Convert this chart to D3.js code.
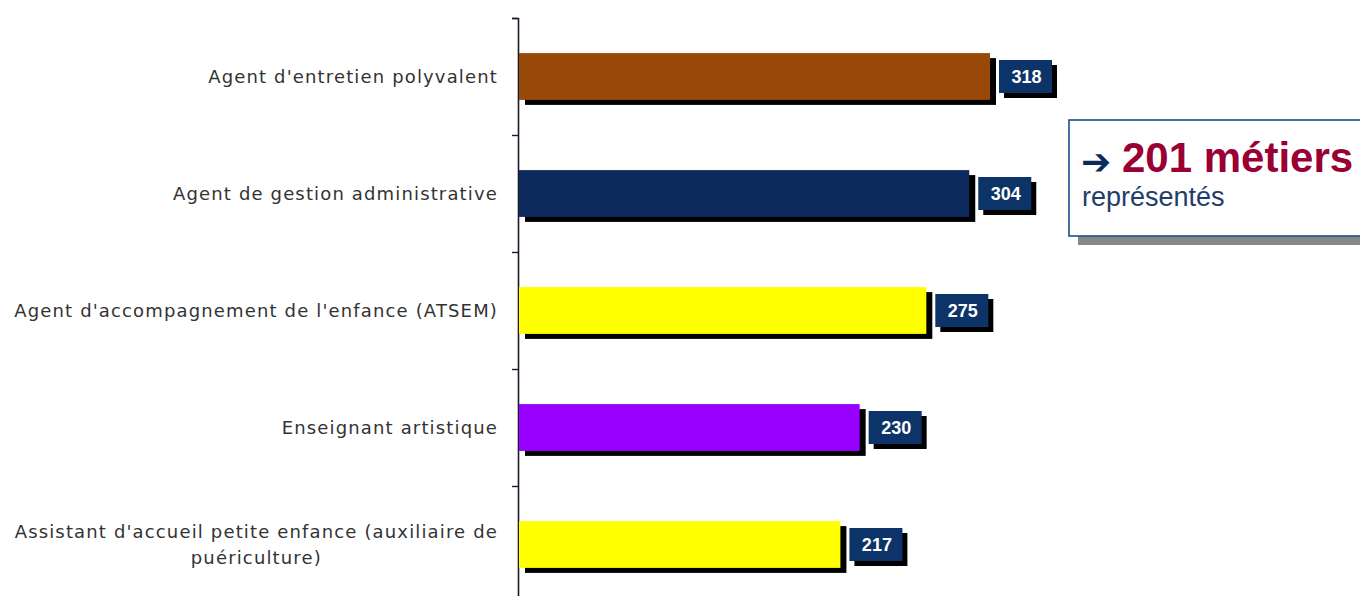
<!DOCTYPE html>
<html><head><meta charset="utf-8">
<script src="https://cdn.jsdelivr.net/npm/d3@7"></script>
<style>body{margin:0;background:#fff;} svg{display:block;}</style>
</head><body>
<svg id="c" width="1360" height="596"></svg>
<script>
const categories = [
  "Agent d'entretien polyvalent",
  "Agent de gestion administrative",
  "Agent d'accompagnement de l'enfance (ATSEM)",
  "Enseignant artistique",
  "Assistant d'accueil petite enfance (auxiliaire de|puériculture)"
];
const values = [318, 304, 275, 230, 217];
const barColors = ["#984807", "#0c2a5c", "#ffff00", "#9900ff", "#ffff00"];
const calloutBig = "201 métiers";
const calloutSmall = "représentés";

const svg = d3.select("#c");
const x = d3.scaleLinear().domain([0, 318]).range([519, 990]);
const y = d3.scaleBand().domain(categories).range([18, 603]).paddingInner(0.6).paddingOuter(0.3);
const yIdx = d3.scaleLinear().domain([0, categories.length]).range([18, 603]);

// axis with ticks at band boundaries
svg.append("g").attr("transform", "translate(518,0)")
  .call(d3.axisLeft(yIdx).ticks(categories.length).tickSize(6).tickFormat(""))
  .call(g => g.select(".domain").attr("stroke", "#1a1a2a").attr("stroke-width", 1.6))
  .call(g => g.selectAll(".tick line").attr("stroke", "#1a1a2a").attr("stroke-width", 1.4));

const bw = y.bandwidth();
// bar shadows
svg.selectAll("rect.sh").data(values).join("rect")
  .attr("x", (d) => x(0) + 6).attr("y", (d, i) => y(categories[i]) + 5)
  .attr("width", d => x(d) - x(0)).attr("height", bw)
  .attr("fill", "#000");
// bars
svg.selectAll("rect.bar").data(values).join("rect")
  .attr("x", x(0)).attr("y", (d, i) => y(categories[i]))
  .attr("width", d => x(d) - x(0)).attr("height", bw)
  .attr("fill", (d, i) => barColors[i]);

// value boxes
const boxW = 53, boxH = 33;
const vb = svg.selectAll("g.vb").data(values).join("g")
  .attr("transform", (d, i) => `translate(${x(d) + 9},${y(categories[i]) + bw / 2 - boxH / 2})`);
vb.append("rect").attr("x", 5).attr("y", 5).attr("width", boxW).attr("height", boxH).attr("fill", "#000");
vb.append("rect").attr("width", boxW).attr("height", boxH).attr("fill", "#0d3468");
vb.append("text").attr("x", boxW / 2 + 1).attr("y", boxH / 2 + 6)
  .attr("text-anchor", "middle").attr("fill", "#fff")
  .style("font", "bold 18px 'Liberation Sans', Arial, sans-serif").text(d => d);

// category labels
const lab = svg.selectAll("text.cat").data(categories).join("text")
  .attr("class", "cat")
  .style("font", "18px 'DejaVu Sans', sans-serif").style("letter-spacing", "1.15px").attr("fill", "#333");
lab.each(function (c) {
  const lines = c.split("|");
  const t = d3.select(this);
  const cy = y(c) + bw / 2;
  const lh = 26;
  const top = cy - (lines.length - 1) * lh / 2 + 6;
  lines.forEach((l, k) => t.append("tspan").attr("y", top + k * lh).text(l));
  const tsp = t.selectAll("tspan").nodes();
  const maxW = d3.max(tsp, n => n.getComputedTextLength());
  t.attr("text-anchor", "middle");
  t.selectAll("tspan").attr("x", 498 - maxW / 2);
});

// callout
const cg = svg.append("g");
cg.append("rect").attr("x", 1078).attr("y", 128).attr("width", 300).attr("height", 117).attr("fill", "#888");
cg.append("rect").attr("x", 1069).attr("y", 120).attr("width", 300).attr("height", 116)
  .attr("fill", "#fff").attr("stroke", "#1f4e8c").attr("stroke-width", 1.6);
cg.append("text").attr("x", 1081).attr("y", 174).attr("fill", "#0c2a5c")
  .style("font", "bold 36px 'DejaVu Sans', sans-serif").text("➔");
cg.append("text").attr("x", 1122).attr("y", 172).attr("fill", "#990033")
  .style("font", "bold 42px 'Liberation Sans', Arial, sans-serif").text(calloutBig);
cg.append("text").attr("x", 1082).attr("y", 206).attr("fill", "#1f3d6b")
  .style("font", "27px 'Liberation Sans', Arial, sans-serif").text(calloutSmall);
</script>
</body></html>
